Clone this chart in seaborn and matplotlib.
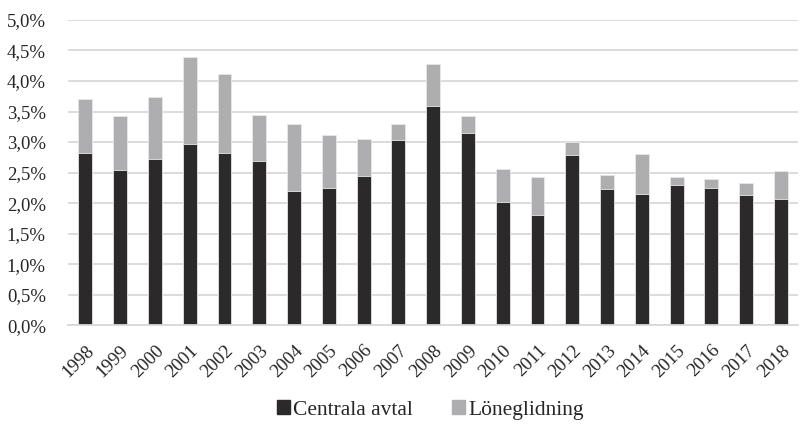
import pandas as pd
import matplotlib
matplotlib.use("Agg")
from matplotlib import pyplot as plt
from matplotlib.ticker import MultipleLocator, FuncFormatter
from matplotlib.patches import Patch
import seaborn as sns

YEARS = [str(y) for y in range(1998, 2019)]
CENTRALA_AVTAL = [2.82, 2.54, 2.73, 2.96, 2.82, 2.69, 2.20, 2.25, 2.44, 3.04, 3.59,
                  3.14, 2.02, 1.81, 2.78, 2.23, 2.15, 2.30, 2.25, 2.14, 2.07]
LONEGLIDNING = [0.89, 0.88, 1.01, 1.43, 1.29, 0.76, 1.10, 0.86, 0.61, 0.26, 0.69,
                0.29, 0.54, 0.61, 0.22, 0.23, 0.65, 0.12, 0.15, 0.19, 0.45]

DARK = "#2b292a"
LIGHT = "#aeadaf"

df = pd.DataFrame({
    "År": YEARS,
    "Centrala avtal": CENTRALA_AVTAL,
    "Löneglidning": LONEGLIDNING,
})
df["Totalt"] = df["Centrala avtal"] + df["Löneglidning"]

sns.set_style("white")
plt.rcParams["font.family"] = ["Liberation Serif", "DejaVu Serif"]

fig = plt.figure(figsize=(8, 4.24), dpi=100)
ax = fig.add_axes([0.085, 0.233, 0.913, 0.72])

# stacked: total in light grey, central agreements on top in dark
sns.barplot(data=df, x="År", y="Totalt", color=LIGHT, width=0.4, ax=ax,
            saturation=1, edgecolor="#e8e8e8", linewidth=0.6)
sns.barplot(data=df, x="År", y="Centrala avtal", color=DARK, width=0.4, ax=ax,
            saturation=1, edgecolor="#e8e8e8", linewidth=0.6)

ax.set_ylim(0, 5.0)
ax.set_xlim(-0.5, len(YEARS) - 0.5)
ax.yaxis.set_major_locator(MultipleLocator(0.5))
ax.yaxis.set_major_formatter(FuncFormatter(lambda v, p: f"{v:.1f}%".replace(".", ",")))
ax.grid(True, axis="y", color="#d9d9d9", linewidth=1.3)
ax.set_axisbelow(True)
sns.despine(ax=ax, left=True, top=True, right=True)
ax.spines["bottom"].set_color("#d9d9d9")
ax.spines["bottom"].set_linewidth(1.3)
ax.tick_params(axis="both", length=0, labelsize=13.5, colors="#262626")
ax.tick_params(axis="x", pad=12)
ax.tick_params(axis="y", pad=16)
plt.setp(ax.get_xticklabels(), rotation=45, ha="right", rotation_mode="anchor")
ax.set_xlabel("")
ax.set_ylabel("")

handles = [Patch(color=DARK, label="Centrala avtal"),
           Patch(color=LIGHT, label="Löneglidning")]
fig.legend(handles=handles, loc="center", bbox_to_anchor=(0.538, 0.033), ncol=2,
           frameon=False, fontsize=15.5, handlelength=0.6, handleheight=0.6,
           handletextpad=0.15, columnspacing=1.8)

fig.savefig("out.png", dpi=100)
